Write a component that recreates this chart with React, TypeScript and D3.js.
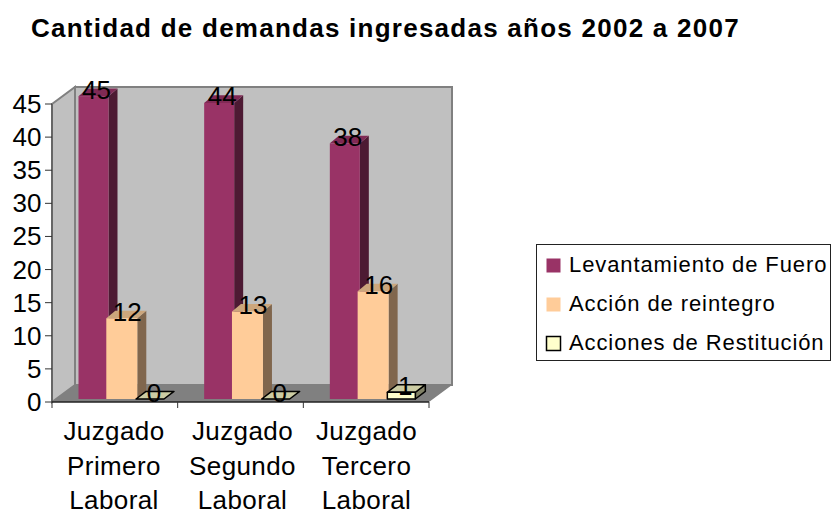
import React from "react";
import * as d3 from "d3";

const title = "Cantidad de demandas ingresadas años 2002 a 2007";
const categories = ["Juzgado Primero Laboral", "Juzgado Segundo Laboral", "Juzgado Tercero Laboral"];
const categoryLines = [["Juzgado", "Primero", "Laboral"], ["Juzgado", "Segundo", "Laboral"], ["Juzgado", "Tercero", "Laboral"]];
const seriesNames = ["Levantamiento de Fuero", "Acción de reintegro", "Acciones de Restitución"];
const levantamiento = [45, 44, 38];
const accion = [12, 13, 16];
const restitucion = [0, 0, 1];
const yTicks = [0, 5, 10, 15, 20, 25, 30, 35, 40, 45];

const FONT = "'Liberation Sans', Arial, sans-serif";
const colors = [
  { front: "#993366", side: "#4d1a33", top: "#7f2a55", stroke: "none" },
  { front: "#ffcc99", side: "#80664d", top: "#cca67c", stroke: "none" },
  { front: "#ffffcc", side: "#808066", top: "#cccca3", stroke: "#000" },
];
const seriesValues = [levantamiento, accion, restitucion];

// front plane of the plot frame
const x0 = 52, x1 = 429, yBase = 402, yTop = 104;
const dx = 23, dy = -17;
const x = d3.scaleBand<string>().domain(categories).range([x0, x1]);
const y = d3.scaleLinear().domain([0, 45]).range([yBase, yTop]);
// bars stand slightly inside the floor
const barBase = 399, barScale = d3.scaleLinear().domain([0, 45]).range([barBase, barBase - 45 * 6.73]);
const barW = [30, 31, 28], barOffset = [26.5, 54.3, 84], bdx = [9, 9, 10], bdy = -7.6;
const labelShift = [3, 5.5, 4];
const labelCenters = [114, 242.5, 366.5];

const pts = (p: number[][]) => p.map((q) => q.join(",")).join(" ");

export default function App() {
  return (
    <svg width={831} height={512} style={{ position: "absolute", left: 0, top: 0, fontFamily: FONT }}>
      <rect width={831} height={512} fill="#fff" />
      <text x={31} y={37} fontSize={26} fontWeight="bold" letterSpacing={1.25}>{title}</text>

      {/* walls */}
      <polygon points={pts([[x0 + dx, yTop + dy], [x1 + dx, yTop + dy], [x1 + dx, yBase + dy], [x0 + dx, yBase + dy]])} fill="#c0c0c0" stroke="#808080" strokeWidth={2} />
      <polygon points={pts([[x0, yTop], [x0 + dx, yTop + dy], [x0 + dx, yBase + dy], [x0, yBase]])} fill="#c0c0c0" stroke="#808080" strokeWidth={2} />
      <polygon points={pts([[x0, yBase], [x0 + dx, yBase + dy], [x1 + dx, yBase + dy], [x1, yBase]])} fill="#808080" />

      {/* axes */}
      <line x1={x0} x2={x0} y1={yTop} y2={yBase} stroke="#666" strokeWidth={2} />
      <line x1={x0} x2={x1} y1={yBase} y2={yBase} stroke="#222" strokeWidth={1.5} />
      {yTicks.map((t) => (
        <g key={t}>
          <line x1={x0 - 7} x2={x0} y1={y(t)} y2={y(t)} stroke="#333" />
          <text x={41.5} y={y(t) + 9} fontSize={26} textAnchor="end">{t}</text>
        </g>
      ))}
      {[...categories.map((c) => x(c)!), x1].map((p) => (
        <line key={p} x1={p} x2={p} y1={yBase} y2={yBase + 6} stroke="#333" />
      ))}

      {/* bars */}
      {categories.map((c, ci) => (
        <g key={c}>
          {seriesValues.map((vals, si) => {
            const v = vals[ci];
            const col = colors[si];
            const l = x(c)! + barOffset[si];
            const r = l + barW[si];
            const t = barScale(v);
            const d = bdx[si];
            return (
              <g key={si} stroke={col.stroke} strokeWidth={si === 2 ? 1.5 : 0} strokeLinejoin="round">
                {v > 0 && <polygon points={pts([[r, barBase], [r + d, barBase + bdy], [r + d, t + bdy], [r, t]])} fill={col.side} />}
                <polygon points={pts([[l, t], [l + d, t + bdy], [r + d, t + bdy], [r, t]])} fill={col.top} />
                {v > 0 && <rect x={l} y={t} width={r - l} height={barBase - t} fill={col.front} />}
              </g>
            );
          })}
        </g>
      ))}

      {/* data labels */}
      {categories.map((c, ci) =>
        seriesValues.map((vals, si) => {
          const v = vals[ci];
          const l = x(c)! + barOffset[si];
          return (
            <text key={`${ci}-${si}`} x={l + barW[si] / 2 + labelShift[si]} y={barScale(v) + 2.5} fontSize={26} textAnchor="middle">{v}</text>
          );
        })
      )}

      {/* category labels */}
      {categoryLines.map((lines, ci) => (
        <text key={ci} fontSize={26} textAnchor="middle" letterSpacing={0.4}>
          {lines.map((ln, li) => (
            <tspan key={li} x={labelCenters[ci]} y={440 + li * 34.5}>{ln}</tspan>
          ))}
        </text>
      ))}

      {/* legend */}
      <rect x={536.5} y={244.5} width={294} height={116} fill="#fff" stroke="#222" />
      {seriesNames.map((n, i) => (
        <g key={n}>
          <rect x={546.5} y={258.5 + i * 39} width={14} height={14} fill={colors[i].front} stroke={i === 2 ? "#000" : "none"} strokeWidth={1.5} />
          <text x={569} y={271.5 + i * 39} fontSize={22} letterSpacing={0.9}>{n}</text>
        </g>
      ))}
    </svg>
  );
}
